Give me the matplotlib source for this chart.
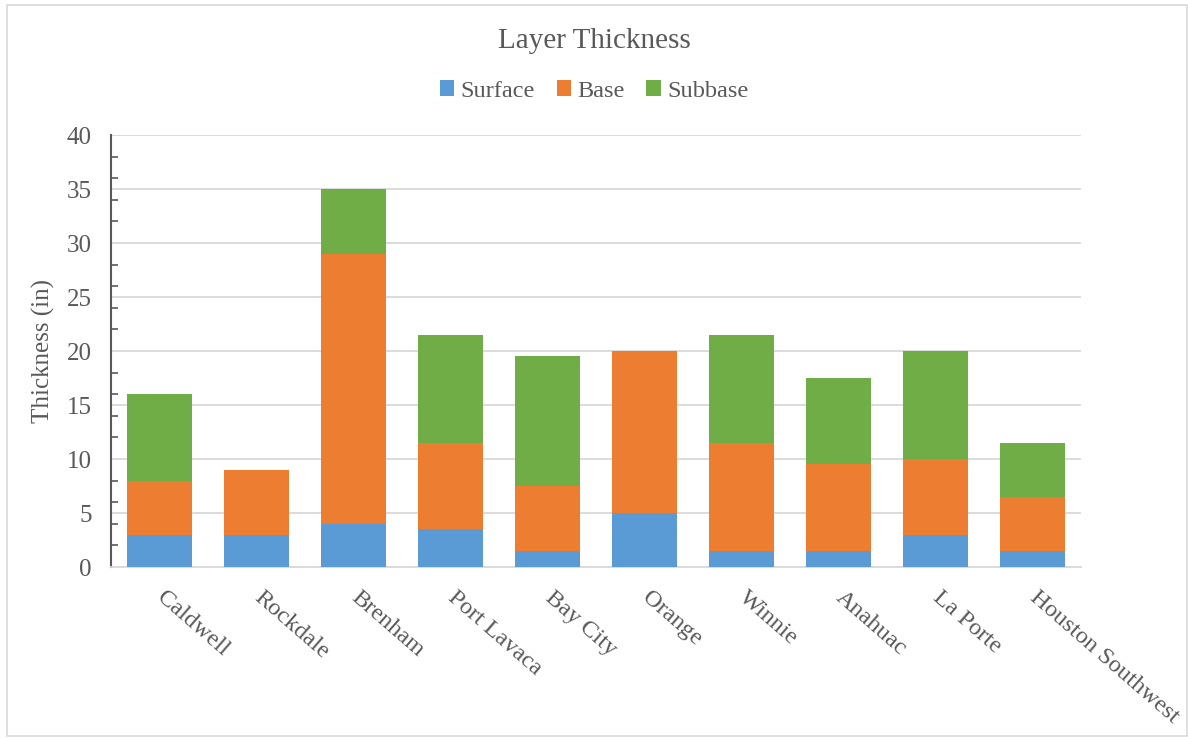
import numpy as np
import matplotlib.pyplot as plt
from matplotlib.patches import Rectangle

plt.rcParams['font.family'] = ['Liberation Serif', 'DejaVu Serif']

sites = ['Caldwell', 'Rockdale', 'Brenham', 'Port Lavaca', 'Bay City',
         'Orange', 'Winnie', 'Anahuac', 'La Porte', 'Houston Southwest']
surface = [3, 3, 4, 3.5, 1.5, 5, 1.5, 1.5, 3, 1.5]
base = [5, 6, 25, 8, 6, 15, 10, 8, 7, 5]
subbase = [8, 0, 6, 10, 12, 0, 10, 8, 10, 5]

txt = '#595959'
fig = plt.figure(figsize=(11.88, 7.38), dpi=100)
fig.patches.append(Rectangle((0.006, 0.003), 0.993, 0.99, transform=fig.transFigure,
                             fill=False, edgecolor='#d9d9d9', lw=1.2))
ax = fig.add_axes([111 / 1188, 1 - 567 / 738, (1081 - 111) / 1188, (567 - 135) / 738])

x = np.arange(len(sites))
s = np.array(surface)
b = np.array(base)
w = 0.67
ax.bar(x, s, w, color='#5B9BD5', label='Surface', zorder=3)
ax.bar(x, b, w, bottom=s, color='#ED7D31', label='Base', zorder=3)
ax.bar(x, subbase, w, bottom=s + b, color='#70AD47', label='Subbase', zorder=3)

ax.set_xlim(-0.5, len(sites) - 0.5)
ax.set_ylim(0, 40)
ax.set_yticks(np.arange(0, 41, 5))
ax.set_yticks(np.arange(0, 41, 2), minor=True)
ax.yaxis.grid(True, color='#d9d9d9', lw=1.3, zorder=0)
ax.tick_params(axis='y', which='both', direction='in', length=5, width=1.2,
               color='#595959', labelsize=18, labelcolor=txt, pad=14)
ax.tick_params(axis='y', which='major', length=0)
ax.tick_params(axis='x', length=0, pad=20)
ax.set_xticks(x)
ax.set_xticklabels(sites, rotation=-41, ha='left', va='center',
                   rotation_mode='anchor', fontsize=17.5, color=txt)

for side in ['top', 'right']:
    ax.spines[side].set_visible(False)
ax.spines['left'].set_color('#595959')
ax.spines['left'].set_linewidth(1.5)
ax.spines['bottom'].set_color('#d9d9d9')
ax.spines['bottom'].set_linewidth(1.3)

ax.set_ylabel('Thickness (in)', fontsize=18, color=txt, labelpad=8)
fig.text(0.5, 1 - 41 / 738, 'Layer Thickness', ha='center', va='center',
         fontsize=21, color=txt)
fig.legend(loc='center', bbox_to_anchor=(0.5, 1 - 91 / 738), ncol=3, frameon=False,
           fontsize=17.5, labelcolor=txt, handlelength=0.6, handleheight=0.6,
           handletextpad=0.25, columnspacing=0.9)

fig.savefig('out.png', dpi=100)
